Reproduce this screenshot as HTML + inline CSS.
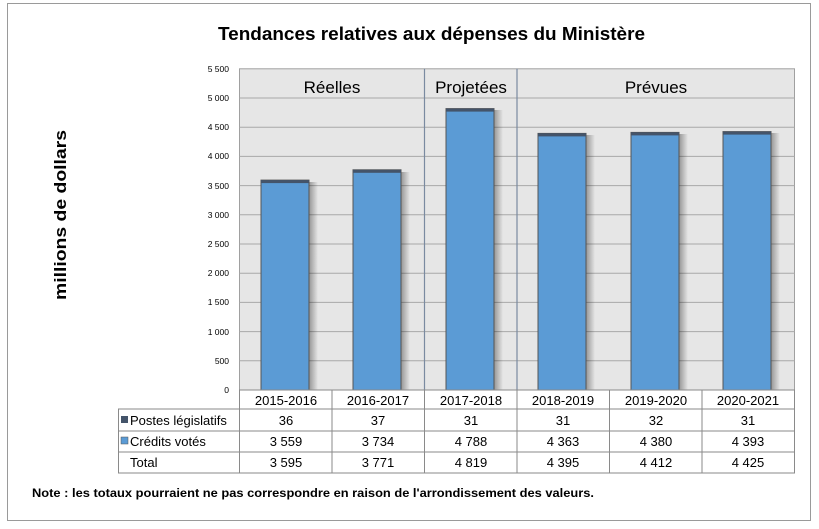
<!DOCTYPE html>
<html><head><meta charset="utf-8"><style>
html,body{margin:0;padding:0;background:#fff;}
svg{display:block;font-family:"Liberation Sans",sans-serif;}
</style></head><body>
<svg width="819" height="529" viewBox="0 0 819 529" xmlns="http://www.w3.org/2000/svg">
<defs>
<linearGradient id="sh" x1="0" x2="1" y1="0" y2="0">
<stop offset="0" stop-color="#000" stop-opacity="0.35"/>
<stop offset="1" stop-color="#000" stop-opacity="0"/>
</linearGradient>
</defs>
<rect x="7.5" y="3.5" width="803" height="517" fill="#fff" stroke="#9a9a9a" stroke-width="1"/>
<text x="218" y="40" font-size="18" font-weight="bold" fill="#000" textLength="427" lengthAdjust="spacingAndGlyphs">Tendances relatives aux dépenses du Ministère</text>
<text transform="translate(66,300) rotate(-90)" font-size="17" font-weight="bold" fill="#000" textLength="170" lengthAdjust="spacingAndGlyphs">millions de dollars</text>
<rect x="239.5" y="68.8" width="555" height="321.2" fill="#e6e6e6" stroke="#a0a0a0"/>
<g stroke="#a8a8a8" stroke-width="1">
<line x1="239.5" x2="794.5" y1="98" y2="98"/>
<line x1="239.5" x2="794.5" y1="127.2" y2="127.2"/>
<line x1="239.5" x2="794.5" y1="156.4" y2="156.4"/>
<line x1="239.5" x2="794.5" y1="185.6" y2="185.6"/>
<line x1="239.5" x2="794.5" y1="214.8" y2="214.8"/>
<line x1="239.5" x2="794.5" y1="244" y2="244"/>
<line x1="239.5" x2="794.5" y1="273.2" y2="273.2"/>
<line x1="239.5" x2="794.5" y1="302.4" y2="302.4"/>
<line x1="239.5" x2="794.5" y1="331.6" y2="331.6"/>
<line x1="239.5" x2="794.5" y1="360.8" y2="360.8"/>
</g>
<g stroke="#7a8aa0" stroke-width="1.2">
<line x1="424.5" x2="424.5" y1="68.8" y2="390"/>
<line x1="517" x2="517" y1="68.8" y2="390"/>
</g>
<g font-size="8.5" fill="#000" text-anchor="end">
<text x="229" y="72">5 500</text><text x="229" y="101">5 000</text><text x="229" y="130">4 500</text>
<text x="229" y="159">4 000</text><text x="229" y="189">3 500</text><text x="229" y="218">3 000</text>
<text x="229" y="247">2 500</text><text x="229" y="276">2 000</text><text x="229" y="305">1 500</text>
<text x="229" y="335">1 000</text><text x="229" y="364">500</text><text x="229" y="393">0</text>
</g>
<g font-size="17" fill="#000" text-anchor="middle">
<text x="332" y="93">Réelles</text><text x="471" y="93">Projetées</text><text x="656" y="93">Prévues</text>
</g>
<g id="bars">
<rect x="309" y="182" width="9" height="208" fill="url(#sh)"/>
<rect x="261" y="180.1" width="48" height="209.9" fill="#5b9bd5" stroke="#555" stroke-width="1"/>
<rect x="261" y="180.1" width="48" height="3" fill="#44546a"/>
<rect x="401" y="172" width="9" height="218" fill="url(#sh)"/>
<rect x="353" y="169.8" width="48" height="220.2" fill="#5b9bd5" stroke="#555" stroke-width="1"/>
<rect x="353" y="169.8" width="48" height="3" fill="#44546a"/>
<rect x="494" y="110" width="9" height="280" fill="url(#sh)"/>
<rect x="446" y="108.6" width="48" height="281.4" fill="#5b9bd5" stroke="#555" stroke-width="1"/>
<rect x="446" y="108.6" width="48" height="3" fill="#44546a"/>
<rect x="586" y="135" width="9" height="255" fill="url(#sh)"/>
<rect x="538" y="133.4" width="48" height="256.6" fill="#5b9bd5" stroke="#555" stroke-width="1"/>
<rect x="538" y="133.4" width="48" height="3" fill="#44546a"/>
<rect x="679" y="134" width="9" height="256" fill="url(#sh)"/>
<rect x="631" y="132.4" width="48" height="257.6" fill="#5b9bd5" stroke="#555" stroke-width="1"/>
<rect x="631" y="132.4" width="48" height="3" fill="#44546a"/>
<rect x="771" y="133" width="9" height="257" fill="url(#sh)"/>
<rect x="723" y="131.6" width="48" height="258.4" fill="#5b9bd5" stroke="#555" stroke-width="1"/>
<rect x="723" y="131.6" width="48" height="3" fill="#44546a"/>
</g>
<g stroke="#8a8a8a" stroke-width="1" fill="none">
<rect x="239.5" y="390" width="555" height="19"/>
<rect x="118.5" y="409" width="676" height="64"/>
<line x1="118.5" x2="794.5" y1="431" y2="431"/>
<line x1="118.5" x2="794.5" y1="452" y2="452"/>
<line x1="239.5" x2="239.5" y1="390" y2="473"/>
<line x1="332" x2="332" y1="390" y2="473"/>
<line x1="424.5" x2="424.5" y1="390" y2="473"/>
<line x1="517" x2="517" y1="390" y2="473"/>
<line x1="609.5" x2="609.5" y1="390" y2="473"/>
<line x1="702" x2="702" y1="390" y2="473"/>
</g>
<rect x="121" y="416" width="7" height="7" fill="#44546a"/>
<rect x="121" y="437" width="7" height="7" fill="#5b9bd5" stroke="#555" stroke-width="0.5"/>
<g font-size="13" fill="#000">
<text x="130" y="425">Postes législatifs</text>
<text x="130" y="446">Crédits votés</text>
<text x="130" y="467">Total</text>
</g>
<g font-size="13" fill="#000" text-anchor="middle">
<text x="286" y="405">2015-2016</text><text x="378" y="405">2016-2017</text><text x="471" y="405">2017-2018</text>
<text x="563" y="405">2018-2019</text><text x="656" y="405">2019-2020</text><text x="748" y="405">2020-2021</text>
<text x="286" y="425">36</text><text x="378" y="425">37</text><text x="471" y="425">31</text>
<text x="563" y="425">31</text><text x="656" y="425">32</text><text x="748" y="425">31</text>
<text x="286" y="446">3 559</text><text x="378" y="446">3 734</text><text x="471" y="446">4 788</text>
<text x="563" y="446">4 363</text><text x="656" y="446">4 380</text><text x="748" y="446">4 393</text>
<text x="286" y="467">3 595</text><text x="378" y="467">3 771</text><text x="471" y="467">4 819</text>
<text x="563" y="467">4 395</text><text x="656" y="467">4 412</text><text x="748" y="467">4 425</text>
</g>
<text x="32" y="497" font-size="11.5" font-weight="bold" fill="#000" textLength="562" lengthAdjust="spacingAndGlyphs">Note : les totaux pourraient ne pas correspondre en raison de l'arrondissement des valeurs.</text>
</svg>
</body></html>
